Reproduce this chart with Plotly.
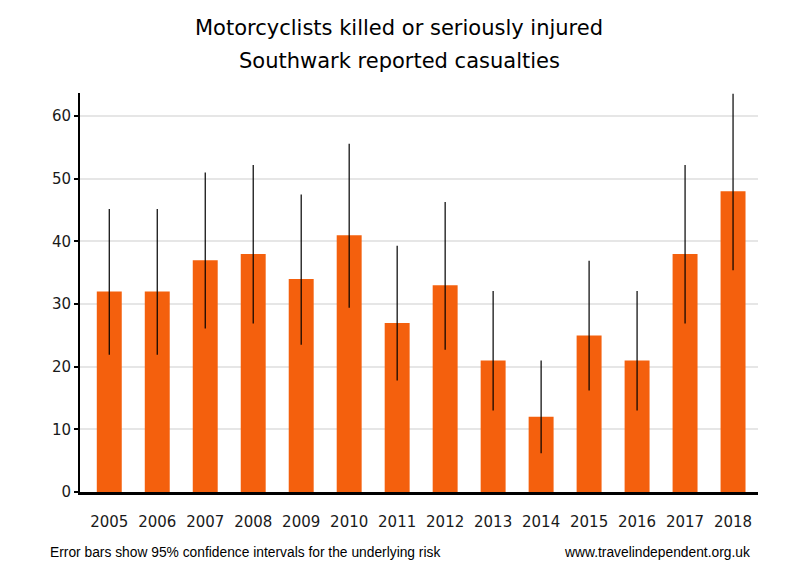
import plotly.graph_objects as go

years = ["2005", "2006", "2007", "2008", "2009", "2010", "2011", "2012",
         "2013", "2014", "2015", "2016", "2017", "2018"]
casualties = [32, 32, 37, 38, 34, 41, 27, 33, 21, 12, 25, 21, 38, 48]
ci_upper = [45.2, 45.2, 51.0, 52.2, 47.5, 55.6, 39.3, 46.3, 32.1, 21.0, 36.9, 32.1, 52.2, 63.6]
ci_lower = [21.9, 21.9, 26.1, 26.9, 23.5, 29.4, 17.8, 22.7, 13.0, 6.2, 16.2, 13.0, 26.9, 35.4]

err_plus = [u - v for u, v in zip(ci_upper, casualties)]
err_minus = [v - l for v, l in zip(casualties, ci_lower)]

fig = go.Figure()
fig.add_trace(go.Bar(
    x=years, y=casualties,
    marker=dict(color="#f4600d", line=dict(width=0)),
    error_y=dict(type="data", array=err_plus, arrayminus=err_minus,
                 symmetric=False, color="black", thickness=1.2, width=0),
    hoverinfo="x+y",
))

title_font = dict(family="DejaVu Sans", size=21, color="black")
note_font = dict(family="Liberation Sans", size=13.8, color="black")

fig.update_layout(
    width=800, height=580,
    paper_bgcolor="white", plot_bgcolor="white",
    margin=dict(l=72, r=50, t=85, b=95.5),
    bargap=0.48,
    showlegend=False,
    font=dict(family="DejaVu Sans", color="#1a1a1a"),
    xaxis=dict(
        type="category", range=[-0.61, 13.52],
        showline=True, linecolor="black", linewidth=2.5,
        ticks="outside", ticklen=14, tickcolor="rgba(0,0,0,0)",
        tickfont=dict(family="DejaVu Sans", size=15, color="#1a1a1a"),
        showgrid=False, zeroline=False,
    ),
    yaxis=dict(
        range=[0, 63.7], tickvals=[0, 10, 20, 30, 40, 50, 60],
        showline=True, linecolor="black", linewidth=2,
        ticks="outside", ticklen=4, tickcolor="black", tickwidth=1.5,
        tickfont=dict(family="DejaVu Sans", size=15, color="#1a1a1a"),
        showgrid=True, gridcolor="#e6e6e6", gridwidth=1.5,
        zeroline=False,
    ),
    annotations=[
        dict(text="Motorcyclists killed or seriously injured",
             xref="paper", yref="paper", x=0.4712, y=1.1627,
             xanchor="center", yanchor="middle", showarrow=False, font=title_font),
        dict(text="Southwark reported casualties",
             xref="paper", yref="paper", x=0.4712, y=1.080,
             xanchor="center", yanchor="middle", showarrow=False, font=title_font),
        dict(text="Error bars show 95% confidence intervals for the underlying risk",
             xref="paper", yref="paper", x=-0.0472, y=-0.1514,
             xanchor="left", yanchor="middle", showarrow=False, font=note_font),
        dict(text="www.travelindependent.org.uk",
             xref="paper", yref="paper", x=0.991, y=-0.1514,
             xanchor="right", yanchor="middle", showarrow=False, font=note_font),
    ],
)

fig.write_html("out.html")
